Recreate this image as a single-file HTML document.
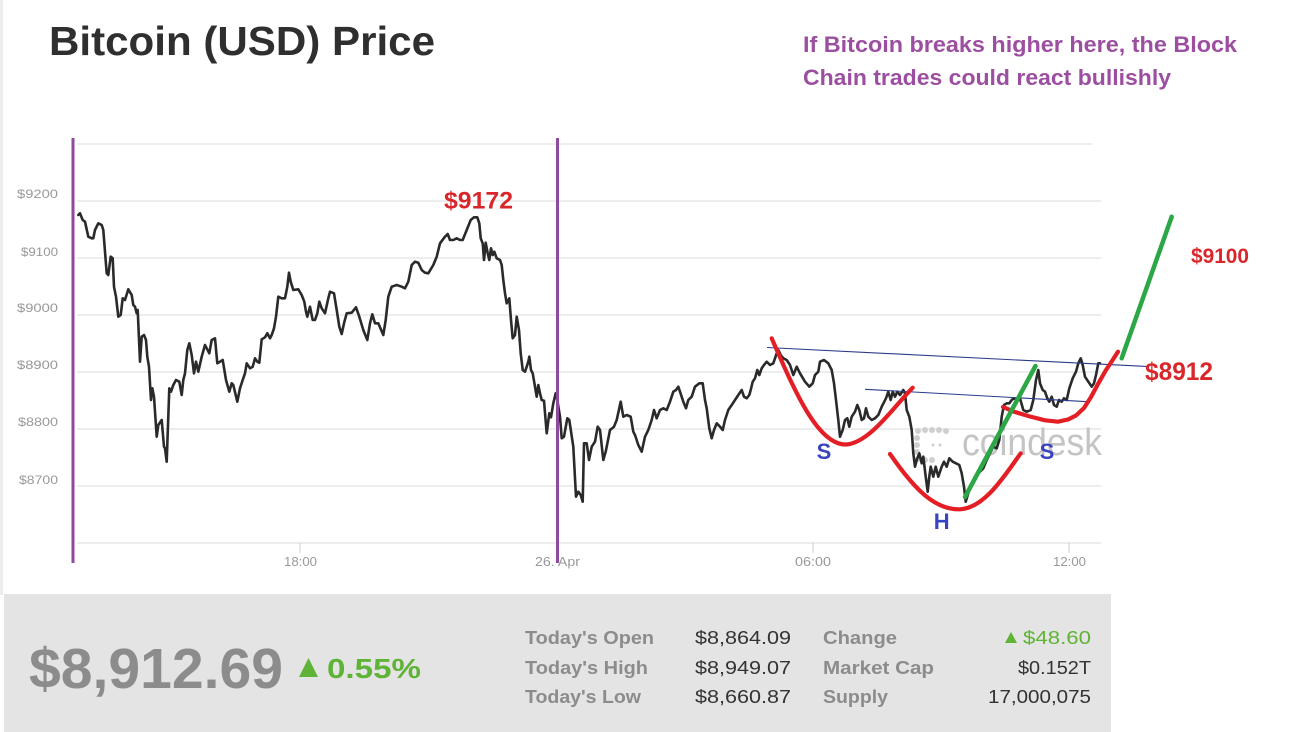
<!DOCTYPE html>
<html>
<head>
<meta charset="utf-8">
<style>
  html,body{margin:0;padding:0;background:#fff;}
  body{width:1305px;height:732px;overflow:hidden;}
  svg{display:block;}
  text{font-family:"Liberation Sans", Arial, sans-serif;}
</style>
</head>
<body>
<svg width="1305" height="732" viewBox="0 0 1305 732" xmlns="http://www.w3.org/2000/svg">
  <rect x="0" y="0" width="1305" height="732" fill="#ffffff"/>
  <rect x="0" y="0" width="3" height="595" fill="#ededed"/>

  <!-- Title -->
  <text x="49" y="55" font-size="41" font-weight="bold" fill="#2f2f2f" textLength="386" lengthAdjust="spacingAndGlyphs">Bitcoin (USD) Price</text>

  <!-- Purple annotation -->
  <text x="803" y="52" font-size="22" font-weight="bold" fill="#9c4fa0" textLength="434" lengthAdjust="spacingAndGlyphs">If Bitcoin breaks higher here, the Block</text>
  <text x="803" y="85" font-size="22" font-weight="bold" fill="#9c4fa0" textLength="368" lengthAdjust="spacingAndGlyphs">Chain trades could react bullishly</text>

  <!-- Gridlines -->
  <g stroke="#e7e7e7" stroke-width="1.5">
    <line x1="77" y1="144" x2="1092" y2="144"/>
    <line x1="77" y1="201" x2="1101" y2="201"/>
    <line x1="77" y1="258" x2="1101" y2="258"/>
    <line x1="77" y1="315" x2="1101" y2="315"/>
    <line x1="77" y1="372" x2="1101" y2="372"/>
    <line x1="77" y1="429" x2="1101" y2="429"/>
    <line x1="77" y1="486" x2="1101" y2="486"/>
    <line x1="77" y1="543" x2="1101" y2="543"/>
  </g>
  <g stroke="#cccccc" stroke-width="1">
    <line x1="300" y1="543" x2="300" y2="553"/>
    <line x1="813" y1="543" x2="813" y2="553"/>
    <line x1="1069" y1="543" x2="1069" y2="553"/>
  </g>

  <!-- Y labels -->
  <g font-size="12" fill="#999999">
    <text x="17" y="198" textLength="41" lengthAdjust="spacingAndGlyphs">$9200</text>
    <text x="21" y="256" textLength="37" lengthAdjust="spacingAndGlyphs">$9100</text>
    <text x="17" y="312" textLength="41" lengthAdjust="spacingAndGlyphs">$9000</text>
    <text x="17" y="369" textLength="41" lengthAdjust="spacingAndGlyphs">$8900</text>
    <text x="18" y="426" textLength="40" lengthAdjust="spacingAndGlyphs">$8800</text>
    <text x="19" y="484" textLength="39" lengthAdjust="spacingAndGlyphs">$8700</text>
  </g>

  <!-- X labels -->
  <g font-size="13" fill="#999999">
    <text x="284" y="566" textLength="33" lengthAdjust="spacingAndGlyphs">18:00</text>
    <text x="535" y="566" textLength="45" lengthAdjust="spacingAndGlyphs">26. Apr</text>
    <text x="795" y="566" textLength="36" lengthAdjust="spacingAndGlyphs">06:00</text>
    <text x="1053" y="566" textLength="33" lengthAdjust="spacingAndGlyphs">12:00</text>
  </g>

  <!-- coindesk watermark -->
  <g fill="#cfcfcf">
    <circle cx="918" cy="431" r="3"/><circle cx="925" cy="430" r="3"/><circle cx="932" cy="430" r="3"/><circle cx="939" cy="430" r="3"/><circle cx="946" cy="431" r="3"/>
    <circle cx="917" cy="438" r="3"/><circle cx="917" cy="445" r="3"/><circle cx="917" cy="452" r="3"/>
    <circle cx="918" cy="459" r="3"/><circle cx="925" cy="460" r="3"/><circle cx="932" cy="460" r="3"/>
    <circle cx="933" cy="445" r="1.5"/><circle cx="940" cy="445" r="1.5"/>
  </g>
  <text x="962" y="455" font-size="38" fill="#c4c4c4" textLength="140" lengthAdjust="spacingAndGlyphs">coindesk</text>

  <!-- Price line -->
  <polyline fill="none" stroke="#2a2a2a" stroke-width="2.6" stroke-linejoin="round" stroke-linecap="round" points="
78.3,215 80,213.3 82.7,220 85,221.7 88.3,236.7 91.7,238.3 93.3,238.3 95,230 98.3,223.3 101.7,225 103.3,230 106.7,273.3 108.3,275 110.7,256.7 112.7,258.3 114,286.7 116,296.7 118.3,316.7 120.7,315 122.7,298.3 125,300 128.3,289.3 131.7,295 133.3,305 135,306.7 136.7,313.3 137.7,310 140,361.7 141.7,336.7 144,335 146,340 147.3,356.7 149,366.7 151,400 152.3,388.3 154,396.7 156.7,436.7 158.3,425 161.7,420 164,446.7 165,448.3 166.7,461.7 169.3,388.3 171,391.7 173.3,385 176,380 179.3,381.7 181.7,395 183.3,380 185,373.3 187.3,350 189.3,343.3 191.7,355 194,373.3 196,361.7 198.3,371.7 201.7,356.7 205,345 206.7,348.3 209.3,353.3 211.7,340 215,338.3 217.3,363.3 220,361.7 222.7,360 226,380 229.3,391.7 231.7,383.3 233.3,385 237.3,401.7 240,388.3 242.7,380 245,373.3 246.7,363.3 250,368.3 252.7,366.7 255,358.3 257.3,361.7 259.3,362.7 261.7,339.3 265,337.3 267.3,333.3 270,338.3 271.7,335 274,328.3 276,316.7 278.3,296.7 281.7,298.3 285,298.3 287.3,286.7 289,272.7 290.7,281.7 293.3,290 298.3,289.3 301.7,295 304.3,301.7 306,311.7 307.3,316.7 310,306.7 312.7,320 315,320 317.3,313.3 319.3,301.7 321.7,308.3 325,313.3 328.3,298.3 330,291.7
334,293.3 336.7,310 339.3,326.7 341.7,334 344,323.3 346.7,313.3 351.7,312.7 356,307.3 359.3,316.7 363.3,330 367.3,340 370,323.3 372.3,314.3 375,323.3 378.3,323.3 383.3,335 385.7,320 388.3,296.7 391.7,286.7 396.7,285 401.7,286.7 405,288.3 408.3,281.7 411.7,265 415,261.7 418.3,262.7 421.7,270 425,272.7 428.3,273.3 433.3,265 436.7,256.7 440,243.3 445,236.7 447.7,234 450,240 453.3,240 456.7,238.3 460,240 462.7,240 466.7,230 470.7,220 474,217.3 477.3,217.3 479.3,223.3 480.7,238.3 482.7,243.3 484,260 485.7,242.7 487.7,253.3 489.3,260 491,248.3 492.7,255 494.3,251.7 496.7,258.3 500,260 501.7,265 503.3,280 505,293.3 506.7,303.3 509.3,298.3 511,320 512.7,338.3 515,335 516.7,316.7 519,330 520.7,353.3 522.7,370 525,371.7 526.7,366.7 528.3,361.7 529.3,356.7 531,370 532.7,373.3 535,386.7 536.7,396.7 538.3,385 540,393.3 541.7,400 544,400.7 546.7,433.3 549.3,413.3 551,417.3 553.3,403.3 555.7,393.3 557.3,400
560,416.7 561.7,438.3 564,436.7 567.3,418.3 569.3,420 573.3,446.7 576,496.7 578.3,491.7 580.7,495 582.7,501.7 584,443.3 586.7,443.3 589,460 591.7,446.7 595,441.7 597.7,426.7 600,430 603.3,460 605.7,451.7 610,430 614,426.7 616.7,420 620.7,401.7 623.3,416.7 626.7,415 630.7,416.7 633.3,431.7 635,435 638.3,445 641.7,451.7 645,436.7 648.3,430 651.7,420 654,410 656.7,418.3 660,410 663.3,408.3 666.7,410 670,401.7 673.3,391.7 676,390 678.3,386.7 680,391.7 683.3,401.7 686,408.3 688.3,400 691.7,396.7 695,386.7 699.3,383.3 702.7,383.3 705,400 706.7,408.3 709.3,428.3 711.7,438.3 714,430 716.7,423.3 720,426.7 722.7,430 725,420 728.3,410 731.7,405 735,400 738.3,395 741.7,390 744,396.7 746.7,398.3 749.3,395 750.7,390 752.7,381.7 755,378.3 757.3,370 759.3,375 761.7,368.3 764,365 766.7,361.7 770,365 773.3,363.3 776.7,353.3 778.3,350 780.7,355 783.3,358.3 786.7,360 790,365 793.3,375 796.7,366.7 800,373.3 805,381.7 809.3,386.7 812.7,383.3 815,375 818.3,371.7
820,361.7 824,360 828.3,363.3 831.7,370 834,383.3 836,400 838.3,420 840,436.7 842.7,430 845,420 847.3,418.3 849.3,426.7 851.7,416.7 855,411.7 857.3,405 859.3,410 861.7,420 864,418.3 866,408.3 868.3,416.7 871.7,420 875,418.3 878.3,415 881.7,406.7 886,398.3 888.3,391.7 890.7,400 892.7,391.7 895,396.7 897.3,391.7 900,395 903.3,390 905,393.3 906.7,410 909.3,416.7 911.7,430 913.3,453.3 915,466.7 916.7,460 919.3,453.3 921.7,463.3 923.3,456.7 925.7,476.7 927.7,491.7 929.3,476.7 930.7,466.7 933.3,476.7 935.7,466.7 938.3,476.7 941.7,466.7 944,461.7 946.7,466.7 949.3,458.3 952.7,461.7 956,463.3 959.3,465 961.7,473.3 964,486.7 965.7,501.7 968.3,493.3 971.7,483.3 975,476.7 980,471.7 983.3,468.3 986.7,460 990,453.3 993.3,446.7 996.7,448.3 999.3,440 1001.7,416.7 1004,405 1006.7,403.3 1009.3,403.3 1011.7,400 1014,398.3 1016.7,400 1018.3,396.7 1020,398.3 1023.3,410 1026.7,411.7 1030.7,410 1033.3,400 1036,380 1038.3,370 1040,383.3 1042.7,390 1045,391.7 1047.3,398.3 1049.3,401.7 1051.7,396.7 1054,405 1056.7,406.7 1059,400 1061.7,401.7 1064,398.3 1066.7,400 1069.3,388.3 1072.7,378.3 1076,371.7 1078.3,363.3 1080.7,358.3 1082.7,365 1085,376.7 1088.3,381.7 1091.7,386.7 1094,383.3 1096,375 1098.3,363.3 1100,363.3"/>

  <!-- Blue neckline lines -->
  <g stroke="#2b3a8c" stroke-width="1.1">
    <line x1="767" y1="347.5" x2="1147" y2="366.5"/>
    <line x1="865" y1="389.3" x2="1090" y2="401.8"/>
  </g>

  <!-- Red cups -->
  <g fill="none" stroke="#e31e24" stroke-width="4.2" stroke-linecap="round" stroke-linejoin="round">
    <path d="M771.7,338.3 C795,392 818,445 846,444.5 C870,443 895,405 912.7,387.7"/>
    <path d="M890,454 C915,490 935,510 960,509.3 C985,508 1005,475 1020.7,453.3"/>
    <polyline points="1003,407 1014,411.7 1030,416.5 1045,420.3 1058,421.7 1068,419.5 1076,415.5 1084,408 1091,397 1098,384 1106,370 1112,361 1118,351.7"/>
  </g>

  <!-- Green lines -->
  <g stroke="#2ca745" stroke-width="4.5" stroke-linecap="round">
    <line x1="965" y1="497" x2="1035.5" y2="366"/>
    <line x1="1121.7" y1="358.3" x2="1171.7" y2="216.7"/>
  </g>

  <!-- Pattern labels -->
  <g font-size="22" font-weight="bold" fill="#3b44c0" text-anchor="middle">
    <text x="824" y="459">S</text>
    <text x="1047" y="459">S</text>
    <text x="941.7" y="529">H</text>
  </g>

  <!-- Red price labels -->
  <text x="444" y="208.5" font-size="24" font-weight="bold" fill="#d9262b" textLength="69" lengthAdjust="spacingAndGlyphs">$9172</text>
  <text x="1145" y="380" font-size="25" font-weight="bold" fill="#d9262b" textLength="68" lengthAdjust="spacingAndGlyphs">$8912</text>
  <text x="1191" y="263" font-size="21" font-weight="bold" fill="#d9262b" textLength="58" lengthAdjust="spacingAndGlyphs">$9100</text>

  <!-- Purple vertical lines -->
  <g stroke="#8e4a9e" stroke-width="3">
    <line x1="73" y1="138" x2="73" y2="563"/>
    <line x1="557.5" y1="138" x2="557.5" y2="563"/>
  </g>

  <!-- Bottom panel -->
  <rect x="4" y="594" width="1107" height="138" fill="#e4e4e4"/>
  <text x="29" y="688" font-size="57" font-weight="bold" fill="#8c8c8c" textLength="254" lengthAdjust="spacingAndGlyphs">$8,912.69</text>
  <polygon points="299,677 318,677 308.5,658" fill="#5fb336"/>
  <text x="327" y="678" font-size="28" font-weight="bold" fill="#5fb336" textLength="94" lengthAdjust="spacingAndGlyphs">0.55%</text>

  <g font-size="18" font-weight="bold" fill="#8c8c8c">
    <text x="525" y="644" textLength="129" lengthAdjust="spacingAndGlyphs">Today's Open</text>
    <text x="525" y="674" textLength="123" lengthAdjust="spacingAndGlyphs">Today's High</text>
    <text x="525" y="703" textLength="116" lengthAdjust="spacingAndGlyphs">Today's Low</text>
    <text x="823" y="644" textLength="74" lengthAdjust="spacingAndGlyphs">Change</text>
    <text x="823" y="674" textLength="111" lengthAdjust="spacingAndGlyphs">Market Cap</text>
    <text x="823" y="703" textLength="65" lengthAdjust="spacingAndGlyphs">Supply</text>
  </g>
  <g font-size="18" fill="#333333">
    <text x="695" y="644" textLength="96" lengthAdjust="spacingAndGlyphs">$8,864.09</text>
    <text x="695" y="674" textLength="96" lengthAdjust="spacingAndGlyphs">$8,949.07</text>
    <text x="695" y="703" textLength="96" lengthAdjust="spacingAndGlyphs">$8,660.87</text>
    <text x="1091" y="674" text-anchor="end" textLength="73" lengthAdjust="spacingAndGlyphs">$0.152T</text>
    <text x="1091" y="703" text-anchor="end" textLength="103" lengthAdjust="spacingAndGlyphs">17,000,075</text>
  </g>
  <polygon points="1005,643 1017,643 1011,632" fill="#5fb336"/>
  <text x="1091" y="644" text-anchor="end" font-size="18" fill="#5fb336" textLength="68" lengthAdjust="spacingAndGlyphs">$48.60</text>
</svg>
</body>
</html>
